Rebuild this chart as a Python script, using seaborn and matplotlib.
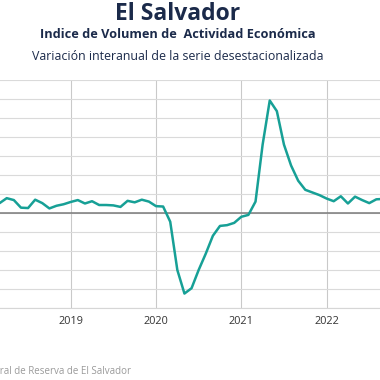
"""El Salvador IVAE: year-on-year change of the seasonally adjusted series."""

import matplotlib.pyplot as plt
import pandas as pd
import seaborn as sns

sns.set_theme(style="whitegrid")
plt.rcParams["font.family"] = ["Open Sans", "DejaVu Sans"]

# monthly values, March 2018 .. September 2022 (% year on year)
START_YEAR = 2018
START_MONTH = 3
ivae_yoy = [
    2.6, 3.9, 3.4, 1.4, 1.3, 3.5, 2.6, 1.2, 1.9, 2.3,            # 2018 Mar-Dec
    2.9, 3.4, 2.5, 3.1, 2.1, 2.1, 2.0, 1.6, 3.2, 2.8, 3.5, 3.0,  # 2019
    1.8, 1.7, -2.3, -15.0, -21.2, -19.8, -15.0, -10.7, -6.0, -3.4, -3.2, -2.6,  # 2020
    -1.0, -0.5, 3.0, 18.0, 29.6, 26.8, 18.0, 12.5, 8.5, 6.1, 5.4, 4.7,  # 2021
    3.8, 3.1, 4.4, 2.5, 4.3, 3.4, 2.6, 3.6, 3.7,                # 2022 Jan-Sep
]
year_ticks = [2018, 2019, 2020, 2021, 2022]
y_ticks = [-25, -20, -15, -10, -5, 0, 5, 10, 15, 20, 25, 30, 35]

TITLE = "El Salvador"
SUBTITLE = "Indice de Volumen de  Actividad Económica"
SUBTITLE2 = "Variación interanual de la serie desestacionalizada"
SOURCE = "Fuente: Banco Central de Reserva de El Salvador"

LINE_COLOR = "#17a096"
NAVY = "#1b2a4a"


def main() -> None:
    months = [(START_MONTH - 1) + i for i in range(len(ivae_yoy))]
    df = pd.DataFrame({
        "t": [START_YEAR + m / 12 for m in months],
        "yoy": ivae_yoy,
    })

    fig = plt.figure(figsize=(3.8, 3.8), dpi=100)
    # the reference is cropped: the plot runs off the left edge
    ax = fig.add_axes([-0.0945, 0.1895, 1.0945, 0.6])

    sns.lineplot(data=df, x="t", y="yoy", color=LINE_COLOR, linewidth=1.8, ax=ax)
    ax.axhline(0, color="#7a7a7a", linewidth=1.1, zorder=1)

    ax.set_xlim(2017.75, 2022.626)
    ax.set_ylim(-25, 35)
    ax.set_xticks(year_ticks)
    ax.set_xticklabels([str(y) for y in year_ticks], fontsize=7.8, color="#333333")
    ax.set_yticks(y_ticks)
    ax.set_yticklabels([])
    ax.tick_params(axis="both", length=0, pad=6)
    ax.set_xlabel("")
    ax.set_ylabel("")
    ax.grid(axis="y", color="#dadada", linewidth=0.8)
    ax.grid(axis="x", color="#c9c9c9", linewidth=0.8)
    for side in ["top", "right", "left"]:
        ax.spines[side].set_visible(False)
    ax.spines["bottom"].set_color("#d6d6d6")
    ax.spines["bottom"].set_linewidth(0.8)

    fig.text(177.5 / 380, 1 - 14 / 380, TITLE, ha="center", va="center",
             fontsize=16.5, fontweight="bold", color=NAVY)
    fig.text(177.5 / 380, 1 - 34.5 / 380, SUBTITLE, ha="center", va="center",
             fontsize=9.2, fontweight="bold", color=NAVY)
    fig.text(177.5 / 380, 1 - 56 / 380, SUBTITLE2, ha="center", va="center",
             fontsize=8.9, color=NAVY)
    fig.text(131 / 380, 1 - 372 / 380, SOURCE, ha="right", va="center",
             fontsize=7.0, color="#9a9a9a")

    fig.savefig("out.png", dpi=100)
    plt.close(fig)


if __name__ == "__main__":
    main()
